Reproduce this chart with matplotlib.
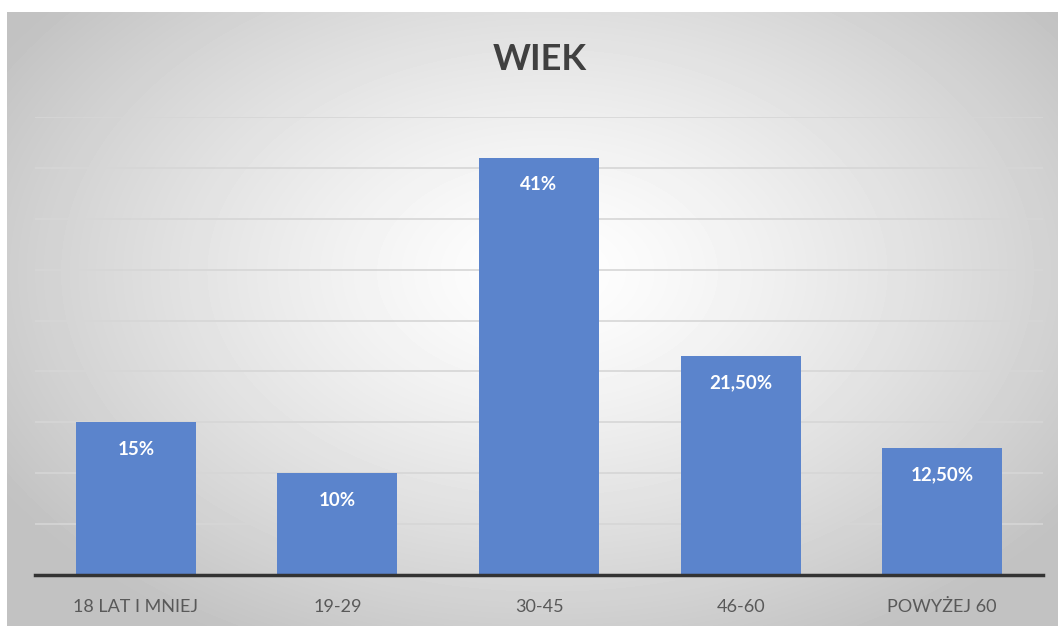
import numpy as np
import matplotlib.pyplot as plt

categories = ['18 LAT I MNIEJ', '19-29', '30-45', '46-60', 'POWYŻEJ 60']
values = [15, 10, 41, 21.5, 12.5]
value_labels = ['15%', '10%', '41%', '21,50%', '12,50%']

plt.rcParams['font.family'] = ['Lato', 'DejaVu Sans']

fig = plt.figure(figsize=(10.58, 6.26), dpi=100)
fig.patch.set_facecolor('white')

# radial gradient background of the chart box
bg = fig.add_axes([7 / 1058, 0, 1 - 7 / 1058, 1 - 12 / 626])
bg.set_axis_off()
h, w = 614, 1051
yy, xx = np.mgrid[0:h, 0:w]
d = np.sqrt(((xx - 540) / 640) ** 2 + ((yy - 260) / 420) ** 2)
shade = 1 - 0.24 * np.clip(d, 0, 1) ** 1.3
bg.imshow(shade, cmap='gray', vmin=0, vmax=1, aspect='auto', interpolation='bilinear')

ax = fig.add_axes([35 / 1058, 1 - 575 / 626, 1008 / 1058, (575 - 117) / 626])
ax.patch.set_alpha(0)
x = np.arange(len(categories))
bars = ax.bar(x, values, width=0.595, color='#5b84cc', zorder=3)
ax.set_xlim(-0.5, len(categories) - 0.5)
ax.set_ylim(0, 45)
ax.set_yticks(np.arange(5, 46, 5))
ax.yaxis.grid(True, color='#d6d6d6', lw=1.2, zorder=0)
ax.tick_params(axis='y', left=False, labelleft=False)
ax.tick_params(axis='x', length=0, pad=17, labelsize=13, colors='#595959')
ax.set_xticks(x)
ax.set_xticklabels(categories)
for s in ['left', 'right', 'top']:
    ax.spines[s].set_visible(False)
ax.spines['bottom'].set_color('#333333')
ax.spines['bottom'].set_linewidth(2.5)
ax.spines['bottom'].set_zorder(4)

# value labels inside the bar tops
for b, lab in zip(bars, value_labels):
    ax.annotate(lab, (b.get_x() + b.get_width() / 2, b.get_height()),
                xytext=(0, -27), textcoords='offset pixels',
                ha='center', va='center', color='white', fontsize=13.5,
                fontweight='bold', zorder=5)

fig.text(540 / 1058, 1 - 60 / 626, 'WIEK', ha='center', va='center',
         fontsize=26, fontweight='bold', color='#404040')

fig.savefig('out.png', dpi=100)
